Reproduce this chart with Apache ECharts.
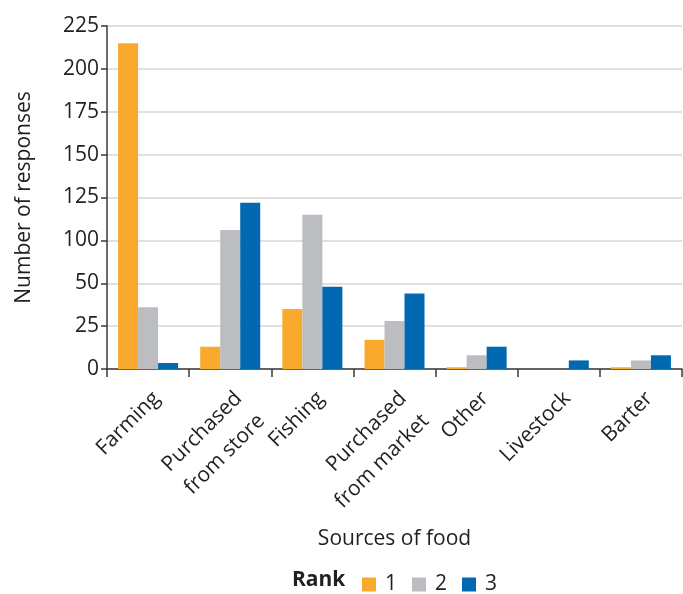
<!DOCTYPE html>
<html>
<head>
<meta charset="utf-8">
<script src="https://cdn.jsdelivr.net/npm/echarts@6/dist/echarts.min.js"></script>
<style>
  html, body { margin: 0; padding: 0; background: #fff; }
  #main { width: 683px; height: 594px; }
</style>
</head>
<body>
<div id="main"></div>
<script>
// categories (x axis)
var categories = ['Farming', 'Purchased\nfrom store', 'Fishing', 'Purchased\nfrom market', 'Other', 'Livestock', 'Barter'];
// tick labels as printed on the original (it skips "75")
var yTickLabels = ['0', '25', '50', '100', '125', '150', '175', '200', '225'];
// values in the axis' linear units (one tick step = 25)
var rank1 = [190, 13, 35, 17, 1, 0, 1];
var rank2 = [36, 81, 90, 28, 8, 0, 5];
var rank3 = [3.5, 97, 48, 44, 13, 5, 8];

var font = 'Open Sans';
var chart = echarts.init(document.getElementById('main'), null, { renderer: 'canvas' });

var option = {
  animation: false,
  textStyle: { fontFamily: font, color: '#231f20' },
  color: ['#f9a92b', '#bcbdc0', '#0069b1'],
  grid: {
    left: 107,
    right: 1,
    top: 26,
    bottom: 225
  },
  graphic: [
    {
      type: 'text',
      left: 292,
      top: 570,
      style: { text: 'Rank', fontFamily: font, fontSize: 21, fontWeight: 'bold', fill: '#231f20' }
    }
  ],
  legend: {
    left: 357,
    top: 569,
    icon: 'rect',
    itemWidth: 14,
    itemHeight: 14,
    itemGap: 15,
    textStyle: { fontFamily: font, fontSize: 21, color: '#231f20', padding: [0, 0, 0, 4] },
    data: ['1', '2', '3']
  },
  xAxis: {
    type: 'category',
    data: categories,
    name: 'Sources of food',
    nameLocation: 'middle',
    nameGap: 160,
    nameTextStyle: { fontSize: 21, color: '#231f20' },
    axisLine: { lineStyle: { color: '#3a3a3a', width: 1.5 } },
    axisTick: { show: true, length: 8, lineStyle: { color: '#3a3a3a', width: 1.5 } },
    axisLabel: {
      rotate: 45,
      interval: 0,
      margin: 12,
      fontSize: 21,
      lineHeight: 32,
      verticalAlign: 'top',
      padding: [0, 4, 0, 0],
      color: '#231f20'
    }
  },
  yAxis: {
    type: 'value',
    min: 0,
    max: 200,
    interval: 25,
    name: 'Number of responses',
    nameLocation: 'middle',
    nameGap: 72,
    nameTextStyle: { fontSize: 21, color: '#231f20' },
    axisLine: { show: true, lineStyle: { color: '#3a3a3a', width: 1.5 } },
    axisTick: { show: true, length: 6, lineStyle: { color: '#3a3a3a', width: 1.5 } },
    axisLabel: {
      margin: 8,
      fontSize: 21,
      color: '#231f20',
      formatter: function (v) { return yTickLabels[Math.round(v / 25)]; }
    },
    splitLine: { lineStyle: { color: '#d6d6d6', width: 1.5 } }
  },
  series: [
    { name: '1', type: 'bar', data: rank1, barWidth: 20, barGap: '0%' },
    { name: '2', type: 'bar', data: rank2, barWidth: 20, barGap: '0%' },
    { name: '3', type: 'bar', data: rank3, barWidth: 20, barGap: '0%' }
  ]
};

chart.setOption(option);
</script>
</body>
</html>
